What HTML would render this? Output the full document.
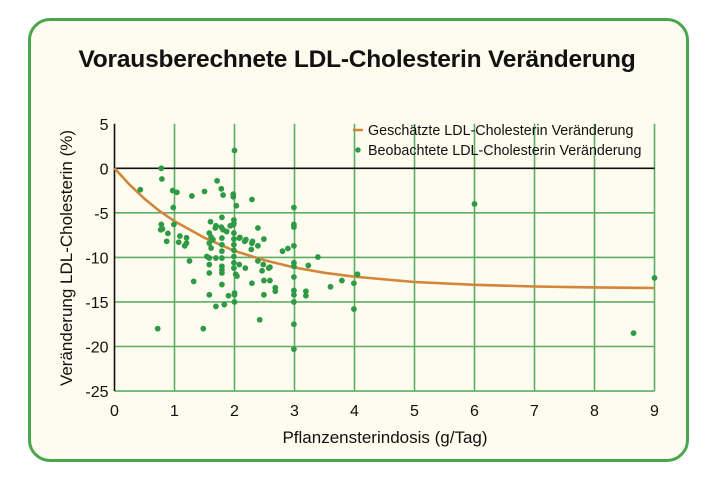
<!DOCTYPE html>
<html><head><meta charset="utf-8"><style>
body{margin:0;background:#fff;width:710px;height:489px;overflow:hidden;font-family:"Liberation Sans",sans-serif}
#box{position:absolute;left:28px;top:18px;width:655px;height:438px;border:3px solid #4aa54e;border-radius:22px;background:#fdfcee}
svg{position:absolute;left:0;top:0}
</style></head><body>
<div id="box"></div>
<svg id="c" width="710" height="489"></svg>
<script>
const xTicks=[0,1,2,3,4,5,6,7,8,9];
const yTicks=[5,0,-5,-10,-15,-20,-25];
const curveX=[0,0.25,0.5,0.75,1,1.5,2,2.5,3,3.5,4,5,6,7,8,9];
const curveY=[0,-1.83,-3.42,-4.79,-5.94,-7.8,-9.27,-10.33,-11.13,-11.73,-12.17,-12.76,-13.08,-13.27,-13.37,-13.43];
const obsX=[2,0.78,0.79,0.43,0.97,1.04,1.71,1.78,1.5,1.29,1.81,1.98,1.98,2.03,2.29,0.98,0.99,1.6,1.79,1.99,1.99,0.78,0.8,0.77,0.89,0.87,1.09,1.2,1.07,1.17,1.2,1.25,1.32,1.58,1.69,1.83,1.9,2,2,2,0.72,1.48,2.42,
1.58,1.61,1.64,1.58,1.61,1.68,1.69,1.78,1.81,1.87,1.93,1.98,1.99,1.99,1.99,1.99,1.99,1.99,1.99,2.02,2.04,1.79,1.79,1.79,1.79,1.69,1.54,1.58,1.58,1.58,1.79,1.79,1.79,1.79,2.08,2.17,2.19,2.29,2.28,2.39,2.39,2.49,2.08,2.18,2.29,2.39,2.48,2.46,2.49,2.49,2.57,
2.09,2.3,2.59,2.59,2.68,2.68,2.8,2.89,2.99,2.99,2.99,2.99,2.99,2.99,2.99,2.99,2.99,2.99,2.99,2.99,3.19,3.19,3.23,3.39,3.6,3.79,3.99,4.05,3.99,6,9,8.65];
const obsY=[2,0,-1.2,-2.4,-2.5,-2.7,-1.4,-2.3,-2.6,-3.1,-3.0,-2.9,-3.2,-4.2,-3.5,-4.4,-6.3,-6.0,-5.5,-5.8,-6.2,-6.3,-6.8,-6.9,-7.3,-8.2,-7.6,-7.8,-8.3,-8.7,-8.4,-10.4,-12.7,-14.2,-15.5,-15.3,-14.3,-14.0,-14.2,-15.0,-18.0,-18.0,-17.0,
-7.27,-7.72,-8.0,-8.4,-8.95,-6.7,-6.45,-6.6,-6.9,-7.1,-6.45,-6.34,-7.27,-7.94,-8.58,-9.2,-9.9,-10.6,-11.2,-11.9,-12.1,-7.83,-8.58,-9.3,-10.07,-10.07,-9.9,-10.07,-10.8,-11.75,-11.0,-11.4,-11.75,-13.05,-7.83,-8.2,-8.0,-8.4,-9.1,-8.7,-6.7,-7.94,-10.8,-11.2,-12.9,-10.4,-10.8,-11.5,-12.6,-14.2,-11.2,
-7.76,-8.2,-11.1,-12.6,-13.4,-13.8,-9.3,-9.0,-4.4,-6.3,-6.6,-8.7,-10.6,-11.0,-12.2,-13.7,-14.2,-15.0,-17.5,-20.3,-13.8,-14.3,-10.9,-9.96,-13.3,-12.6,-12.9,-11.9,-15.8,-4.0,-12.3,-18.5];
const NS='http://www.w3.org/2000/svg';
const svg=document.getElementById('c');
const X0=114.5,XU=60,Y0=168.3,YU=8.91;
const sx=v=>X0+v*XU, sy=v=>Y0-v*YU;
function mk(tag,attrs,parent){const e=document.createElementNS(NS,tag);for(const k in attrs)e.setAttribute(k,attrs[k]);(parent||svg).appendChild(e);return e;}
xTicks.forEach(t=>{if(t===0)return;
 const l=mk('line',{x1:sx(t),x2:sx(t),y1:sy(5),y2:sy(-25),stroke:'#5cae66','stroke-width':1.6});
 
 
});
yTicks.forEach(t=>{if(t===5||t===0)return;
 const l=mk('line',{x1:sx(0),x2:sx(9),y1:sy(t),y2:sy(t),stroke:'#5cae66','stroke-width':1.6});
 
 
});
const zl=mk('line',{x1:sx(0),x2:sx(9),y1:sy(0),y2:sy(0),stroke:'#111','stroke-width':1.6});


const ya=mk('line',{x1:sx(0),x2:sx(0),y1:sy(5),y2:sy(-25),stroke:'#111','stroke-width':1.6});


yTicks.forEach(t=>{
 const tx=mk('text',{x:sx(0)-6,y:sy(t)+6,'text-anchor':'end','font-size':16,fill:'#111'});
 tx.textContent=t;
 
 
});
xTicks.forEach(t=>{
 const tx=mk('text',{x:sx(t),y:sy(-25)+25,'text-anchor':'middle','font-size':16,fill:'#111'});
 tx.textContent=t;
 
 
});
let d='';curveX.forEach((v,i)=>{d+=(i?'L':'M')+sx(v).toFixed(1)+','+sy(curveY[i]).toFixed(1);});
const cp=mk('path',{d:d,fill:'none',stroke:'#d3853a','stroke-width':2.6});


obsX.forEach((v,i)=>{
 const c=mk('circle',{cx:sx(v),cy:sy(obsY[i]),r:2.9,fill:'#2f9a46'});
 
 
});
const ti=mk('text',{x:357,y:67,'text-anchor':'middle','font-size':24.5,'font-weight':'bold',fill:'#111','letter-spacing':'-0.2'});
ti.textContent='Vorausberechnete LDL-Cholesterin Veränderung';


const xl=mk('text',{x:385,y:443,'text-anchor':'middle','font-size':17,fill:'#111'});
xl.textContent='Pflanzensterindosis (g/Tag)';


const yl=mk('text',{x:0,y:0,'text-anchor':'middle','font-size':17,fill:'#111',transform:'translate(72,258) rotate(-90)'});
yl.textContent='Veränderung LDL-Cholesterin (%)';


const lg=mk('g',{});


mk('line',{x1:353,x2:363,y1:130,y2:130,stroke:'#d3853a','stroke-width':2.5},lg);
mk('circle',{cx:358,cy:150,r:2.7,fill:'#2f9a46'},lg);
const l1=mk('text',{x:368,y:135,'font-size':14.3,fill:'#111'},lg);
l1.textContent='Geschätzte LDL-Cholesterin Veränderung';


const l2=mk('text',{x:368,y:155,'font-size':14.3,fill:'#111'},lg);
l2.textContent='Beobachtete LDL-Cholesterin Veränderung';


</script>
</body></html>
